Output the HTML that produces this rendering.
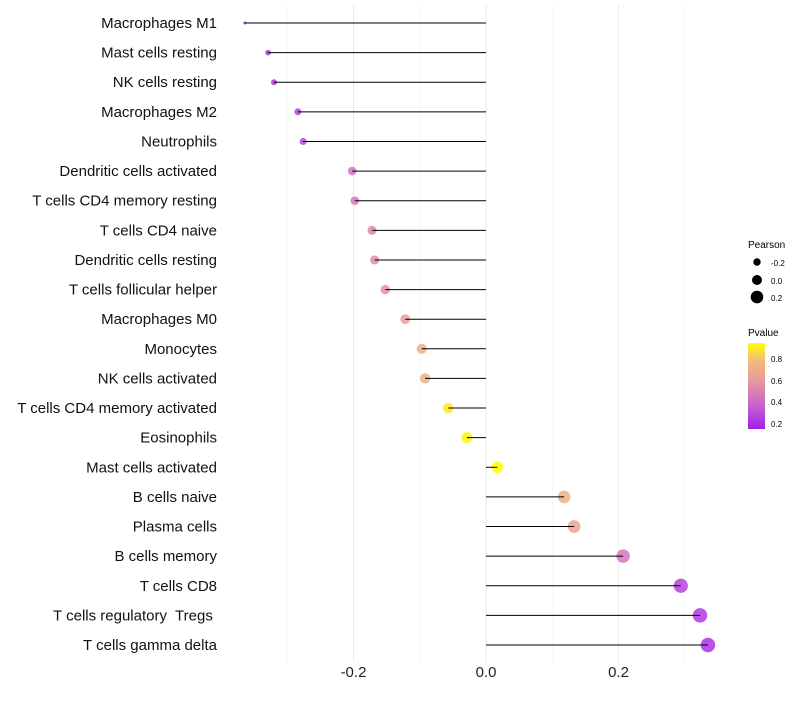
<!DOCTYPE html>
<html><head><meta charset="utf-8"><style>
body{margin:0;background:#fff;font-family:"Liberation Sans",Arial,sans-serif}
text{white-space:pre}
</style></head><body>
<svg id="chart" width="800" height="700" xmlns="http://www.w3.org/2000/svg">
<defs>
<linearGradient id="pgrad" x1="0" y1="1" x2="0" y2="0">
<stop offset="0" stop-color="#A020F0"/>
<stop offset="0.31" stop-color="#CD69C8"/>
<stop offset="0.56" stop-color="#E69BA0"/>
<stop offset="0.81" stop-color="#F3BE73"/>
<stop offset="1" stop-color="#FFFF00"/>
</linearGradient>
</defs>
<g id="grid"></g><g id="marks"></g><g id="labels"></g>
<g id="legend">
<text x="748" y="248" font-size="10">Pearson</text>
<circle cx="757" cy="262" r="3.7" fill="#000"/>
<text x="771" y="266" font-size="8">-0.2</text>
<circle cx="757" cy="280" r="5" fill="#000"/>
<text x="771" y="284" font-size="8">0.0</text>
<circle cx="757" cy="297" r="6.3" fill="#000"/>
<text x="771" y="301" font-size="8">0.2</text>
<text x="748" y="336" font-size="10">Pvalue</text>
<rect x="748" y="343" width="17" height="86" fill="url(#pgrad)"/>
<text x="771" y="362" font-size="8">0.8</text>
<text x="771" y="384" font-size="8">0.6</text>
<text x="771" y="405" font-size="8">0.4</text>
<text x="771" y="427" font-size="8">0.2</text>
</g>
</svg>
<script>
const categories=["Macrophages M1","Mast cells resting","NK cells resting","Macrophages M2","Neutrophils","Dendritic cells activated","T cells CD4 memory resting","T cells CD4 naive","Dendritic cells resting","T cells follicular helper","Macrophages M0","Monocytes","NK cells activated","T cells CD4 memory activated","Eosinophils","Mast cells activated","B cells naive","Plasma cells","B cells memory","T cells CD8","T cells regulatory  Tregs ","T cells gamma delta"];
const pearson=[-0.364,-0.329,-0.320,-0.284,-0.276,-0.202,-0.198,-0.172,-0.168,-0.152,-0.122,-0.097,-0.092,-0.057,-0.029,0.017,0.118,0.133,0.207,0.294,0.323,0.335];
const pvalue=[0.15,0.22,0.22,0.27,0.28,0.45,0.46,0.52,0.53,0.56,0.62,0.72,0.73,0.9,0.93,0.96,0.72,0.65,0.45,0.27,0.24,0.22];
const xTicks=[-0.2,0.0,0.2];
const xMinor=[-0.3,-0.1,0.1,0.3];
const NS="http://www.w3.org/2000/svg";
const x=v=>486+v*662.5;
const y=i=>23+i*(645-23)/21;
const rad=v=>1.5+5.8*Math.sqrt(Math.max(0,(v+0.364)/0.699));
const stops=[[0.15,[160,32,240]],[0.4,[205,105,200]],[0.6,[230,155,160]],[0.8,[243,190,115]],[0.95,[255,255,0]]];
function col(p){p=Math.min(0.95,Math.max(0.15,p));for(let k=0;k<stops.length-1;k++){const a=stops[k],b=stops[k+1];if(p<=b[0]){const t=(p-a[0])/(b[0]-a[0]);return "rgb("+a[1].map((c,j)=>Math.round(c+(b[1][j]-c)*t)).join(",")+")";}}return "rgb(255,255,0)";}
function mk(t,a,parent){const e=document.createElementNS(NS,t);for(const k in a)e.setAttribute(k,a[k]);document.getElementById(parent).appendChild(e);return e;}
xMinor.forEach(v=>{const l=mk("line",{x1:x(v),x2:x(v),y1:5,y2:662,stroke:"#f2f2f2","stroke-width":0.6},"grid");

});
xTicks.forEach(v=>{const l=mk("line",{x1:x(v),x2:x(v),y1:5,y2:662,stroke:"#ebebeb","stroke-width":1},"grid");


const t=mk("text",{x:x(v),y:677,"font-size":15,"text-anchor":"middle",fill:"#222"},"labels");t.textContent=v.toFixed(1);

});
categories.forEach((c,i)=>{
const d=mk("circle",{cx:x(pearson[i]),cy:y(i),r:rad(pearson[i]),fill:col(pvalue[i]),"fill-opacity":0.85},"marks");


const s=mk("line",{x1:x(0),x2:x(pearson[i]),y1:y(i),y2:y(i),stroke:"#000","stroke-width":1},"marks");


const t=mk("text",{x:217,y:y(i)+5,"font-size":15,"text-anchor":"end",fill:"#111"},"labels");t.textContent=c;


});
</script>
</body></html>
